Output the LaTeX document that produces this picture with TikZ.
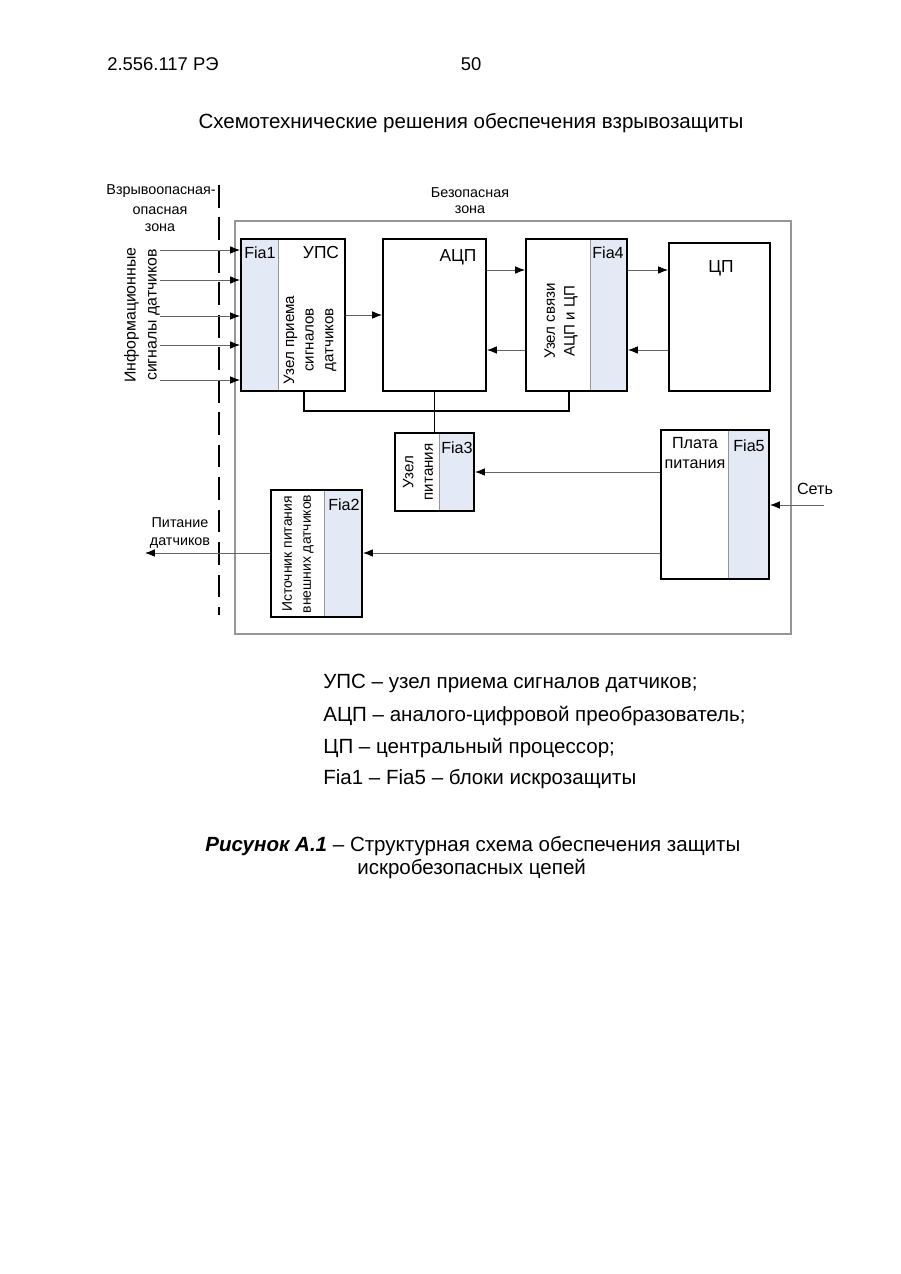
\documentclass[tikz,border=0pt]{standalone}
\usepackage{fontspec}
\setmainfont{Liberation Sans}
\usetikzlibrary{arrows.meta,fit}
\definecolor{fiablue}{RGB}{228,234,245}
\definecolor{linegray}{RGB}{100,100,100}
\definecolor{framegray}{RGB}{150,150,150}
\tikzset{
  box/.style={draw=black,line width=1.3pt,inner sep=0pt},
  fiafill/.style={fill=fiablue,draw=framegray,line width=0.6pt,inner sep=0pt},
  arr/.style={draw=linegray,line width=0.6pt,-{Latex[length=6.5pt,width=5pt,color=black]}},
  bus/.style={draw=black,line width=1.3pt},
  lbl/.style={font=\fontsize{11.5}{13}\selectfont,inner sep=0pt},
  fialbl/.style={font=\fontsize{10.7}{12}\selectfont,inner sep=0pt},
  rot/.style={font=\fontsize{10}{13}\selectfont,rotate=90,align=center,inner sep=0pt},
  small/.style={font=\fontsize{9.5}{11.5}\selectfont,align=center,inner sep=0pt},
  page/.style={font=\fontsize{13.6}{16}\selectfont,inner sep=0pt,anchor=base west}
}
\begin{document}
\begin{tikzpicture}[x=0.662pt,y=-0.662pt]
\useasboundingbox (0,0) rectangle (900,1274);
% header
\node[page,font=\fontsize{12.2}{14}\selectfont] (hdr) at (107,70) {2.556.117 РЭ};
\node[page,anchor=base,font=\fontsize{12.2}{14}\selectfont] (pg) at (471,70) {50};
\node[page,anchor=base] (title) at (471,128) {Схемотехнические решения обеспечения взрывозащиты};
% zones
\draw[line width=1.8pt,dash pattern=on 15pt off 6.5pt] (219,185) -- (219,615);
\node[small,anchor=east] (z1) at (216,191) {Взрывоопасная-};
\node[small] (z2) at (160,211) {опасная};
\node[small] (z3) at (160,228) {зона};
\node[small] (z4) at (470,193) {Безопасная};
\node[small] (z5) at (470,210) {зона};
\node[draw=framegray,line width=0.8pt,inner sep=0pt,fit={(235,221) (791,634)}] (frame) {};
% UPS with Fia1
\node[fiafill,fit={(241,239) (278,391)}] (fia1) {};
\node[box,fit={(241,239) (345,391)}] (ups) {};
\node[fialbl] at (260,253) {Fia1};
\node[lbl] at (321,253) {УПС};
\node[rot] (upstxt) at (310,340) {Узел приема\\сигналов\\датчиков};
% ADC
\node[box,fit={(383,239) (486,391)}] (adc) {};
\node[lbl] at (458,257) {АЦП};
% link with Fia4
\node[fiafill,fit={(590,239) (627,391)}] (fia4) {};
\node[box,fit={(526,239) (627,391)}] (link) {};
\node[fialbl] at (608,253) {Fia4};
\node[rot] at (561,321) {Узел связи\\АЦП и ЦП};
% CPU
\node[box,fit={(669,243) (770,391)}] (cpu) {};
\node[lbl] at (721,268) {ЦП};
% power node with Fia3
\node[fiafill,fit={(439,433) (474,511)}] (fia3) {};
\node[box,fit={(395,433) (474,511)}] (pwr) {};
\node[fialbl] at (457,448) {Fia3};
\node[rot] at (418,472) {Узел\\питания};
% power board with Fia5
\node[fiafill,fit={(728,430) (769,579)}] (fia5) {};
\node[box,fit={(661,430) (769,579)}] (board) {};
\node[fialbl] at (749,446) {Fia5};
\node[lbl,align=center,font=\fontsize{10.7}{13.2}\selectfont] at (695,453) {Плата\\питания};
% external sensor supply with Fia2
\node[fiafill,fit={(324,490) (362,617)}] (fia2) {};
\node[box,fit={(271,490) (362,617)}] (ext) {};
\node[fialbl] at (344,505) {Fia2};
\node[rot,font=\fontsize{9.2}{12.5}\selectfont] at (298,554) {Источник питания\\внешних датчиков};
% inputs
\node[rot,font=\fontsize{10.5}{14}\selectfont] (inlbl) at (142,315) {Информационные\\сигналы датчиков};
\foreach \y [count=\i] in {250,280,316,345,380}{
  \coordinate (in\i) at (160,\y);
  \draw[arr] (in\i) -- (in\i -| ups.west);
}
% data arrows
\draw[arr] (ups.east) -- (adc.west);
\draw[arr] (adc.east |- 0,270) -- (link.west |- 0,270);
\draw[arr] (link.west |- 0,350) -- (adc.east |- 0,350);
\draw[arr] (link.east |- 0,270) -- (cpu.west |- 0,270);
\draw[arr] (cpu.west |- 0,350) -- (link.east |- 0,350);
% bus
\coordinate (busL) at (304,411);
\coordinate (busR) at (569,411);
\draw[bus] (ups.south -| busL) -- (busL) -- (busR) -- (link.south -| busR);
\draw[bus] (adc.south) -- (adc.south |- busL) -- (pwr.north -| adc.south);
% power arrows
\draw[arr] (board.west |- 0,472) -- (pwr.east |- 0,472);
\draw[arr] (board.west |- 0,553) -- (ext.east |- 0,553);
\coordinate (pout) at (145,553);
\draw[arr] (ext.west |- 0,553) -- (pout);
\node[small] (plbl) at (180,533) {Питание\\датчиков};
\coordinate (net) at (824,505);
\draw[arr] (net) -- (net -| board.east);
\node[small,font=\fontsize{10.7}{12}\selectfont] (netlbl) at (815,489) {Сеть};
% legend
\node[page] (l1) at (323,688) {УПС – узел приема сигналов датчиков;};
\node[page] (l2) at (323,721) {АЦП – аналого-цифровой преобразователь;};
\node[page] (l3) at (323,753) {ЦП – центральный процессор;};
\node[page] (l4) at (323,784) {Fia1 – Fia5 – блоки искрозащиты};
\node[page] (c1) at (205,851) {\textbf{\textit{Рисунок А.1}} – Структурная схема обеспечения защиты};
\node[page] (c2) at (357,874) {искробезопасных цепей};
\end{tikzpicture}
\end{document}
